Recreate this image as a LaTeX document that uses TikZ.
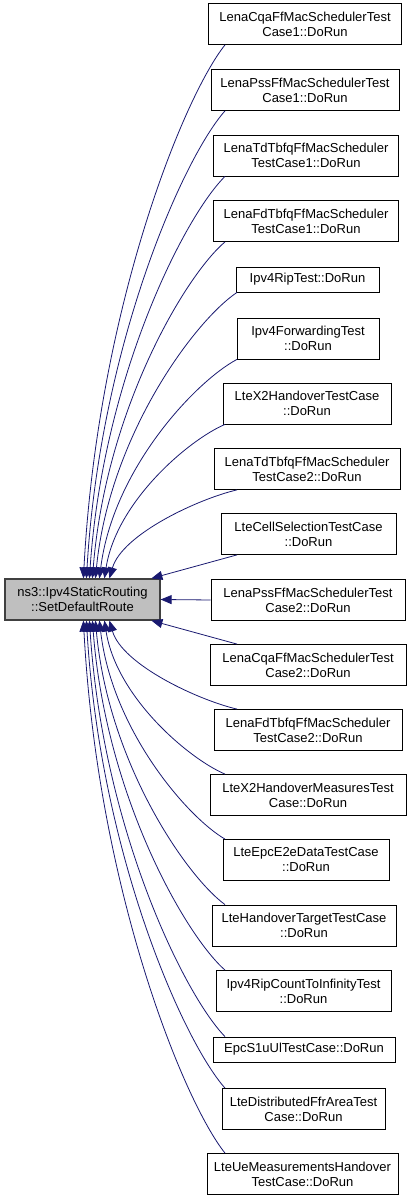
\documentclass[tikz,border=0pt]{standalone}
\usepackage{fontspec}
\newfontfamily\graphfont{Liberation Sans}
\usetikzlibrary{arrows.meta,calc}
\definecolor{edgeblue}{HTML}{191970}
\definecolor{mainfill}{HTML}{BFBFBF}
\definecolor{mainline}{HTML}{404040}

\begin{document}
\begin{tikzpicture}[
        x=1bp, y=1bp,
        fn/.style={draw=black, line width=0.8bp, fill=white, align=center, inner xsep=4bp, inner ysep=0pt, minimum height=41bp, font=\graphfont\fontsize{13bp}{15bp}\selectfont},
        fnone/.style={fn, minimum height=25bp},
        target/.style={fn, fill=mainfill, draw=mainline, line width=1.2bp},
        call/.style={draw=edgeblue, line width=0.8bp, -{Triangle[length=11bp,width=9bp]}}
    ]
        \useasboundingbox (0,0) rectangle (413,1200);

        \node[target, minimum width=155bp] (main) at (82.5,600.5) {ns3::Ipv4StaticRouting\\::SetDefaultRoute};

        \node[fn, minimum width=193bp] (b1) at (305,1176) {LenaCqaFfMacSchedulerTest\\Case1::DoRun};
        \node[fn, minimum width=188bp] (b2) at (305,1110) {LenaPssFfMacSchedulerTest\\Case1::DoRun};
        \node[fn, minimum width=185bp] (b3) at (306,1044.5) {LenaTdTbfqFfMacScheduler\\TestCase1::DoRun};
        \node[fn, minimum width=185bp] (b4) at (306,979) {LenaFdTbfqFfMacScheduler\\TestCase1::DoRun};
        \node[fnone, minimum width=143bp] (b5) at (307.5,920.5) {Ipv4RipTest::DoRun};
        \node[fn, minimum width=142bp] (b6) at (308,861.5) {Ipv4ForwardingTest\\::DoRun};
        \node[fn, minimum width=168bp] (b7) at (307,796.5) {LteX2HandoverTestCase\\::DoRun};
        \node[fn, minimum width=186bp] (b8) at (307,731) {LenaTdTbfqFfMacScheduler\\TestCase2::DoRun};
        \node[fn, minimum width=175bp] (b9) at (308.5,666) {LteCellSelectionTestCase\\::DoRun};
        \node[fn, minimum width=194bp] (b10) at (308,600) {LenaPssFfMacSchedulerTest\\Case2::DoRun};
        \node[fn, minimum width=196bp] (b11) at (308,535) {LenaCqaFfMacSchedulerTest\\Case2::DoRun};
        \node[fn, minimum width=188bp] (b12) at (308,470) {LenaFdTbfqFfMacScheduler\\TestCase2::DoRun};
        \node[fn, minimum width=196bp] (b13) at (308,405) {LteX2HandoverMeasuresTest\\Case::DoRun};
        \node[fn, minimum width=166bp] (b14) at (306,340) {LteEpcE2eDataTestCase\\::DoRun};
        \node[fn, minimum width=184bp] (b15) at (304,274.5) {LteHandoverTargetTestCase\\::DoRun};
        \node[fn, minimum width=175bp] (b16) at (303.5,209) {Ipv4RipCountToInfinityTest\\::DoRun};
        \node[fnone, minimum width=182bp] (b17) at (304,150.5) {EpcS1uUlTestCase::DoRun};
        \node[fn, minimum width=163bp] (b18) at (303.5,91) {LteDistributedFfrAreaTest\\Case::DoRun};
        \node[fn, minimum width=191bp] (b19) at (302.5,26) {LteUeMeasurementsHandover\\TestCase::DoRun};

        % ports where the splines leave the callers
        \coordinate (portA) at (225,0);
        \coordinate (portB) at (237,0);

        % callers above
        \foreach \src/\port/\tip in {b1/portA/79, b2/portA/82, b3/portA/85, b4/portA/88, b5/portB/91, b6/portB/95, b7/portA/100, b8/portB/105}
            \draw[call] let \p1=(\src.south -| \port), \p2=([xshift=\tip bp]main.north west) in
                (\p1) .. controls ({\x1+0.3*(\x2-\x1)},{\y1+0.1*(\y2-\y1)}) and ({\x2+0.1*(\x1-\x2)},{\y1+0.5*(\y2-\y1)}) .. (\p2);

        % callers below
        \foreach \src/\port/\tip in {b12/portB/105, b13/portA/100, b14/portA/95, b15/portA/91, b16/portA/88, b17/portA/85, b18/portA/82, b19/portA/79}
            \draw[call] let \p1=(\src.north -| \port), \p2=([xshift=\tip bp]main.south west) in
                (\p1) .. controls ({\x1+0.3*(\x2-\x1)},{\y1+0.1*(\y2-\y1)}) and ({\x2+0.1*(\x1-\x2)},{\y1+0.5*(\y2-\y1)}) .. (\p2);

        % the three close ones
        \draw[call] (b9.south -| portB) -- ([xshift=147bp]main.north west);
        \draw[call] (b10.west) -- (main.east);
        \draw[call] (b11.north -| portB) -- ([xshift=147bp]main.south west);
    \end{tikzpicture}
\end{document}
